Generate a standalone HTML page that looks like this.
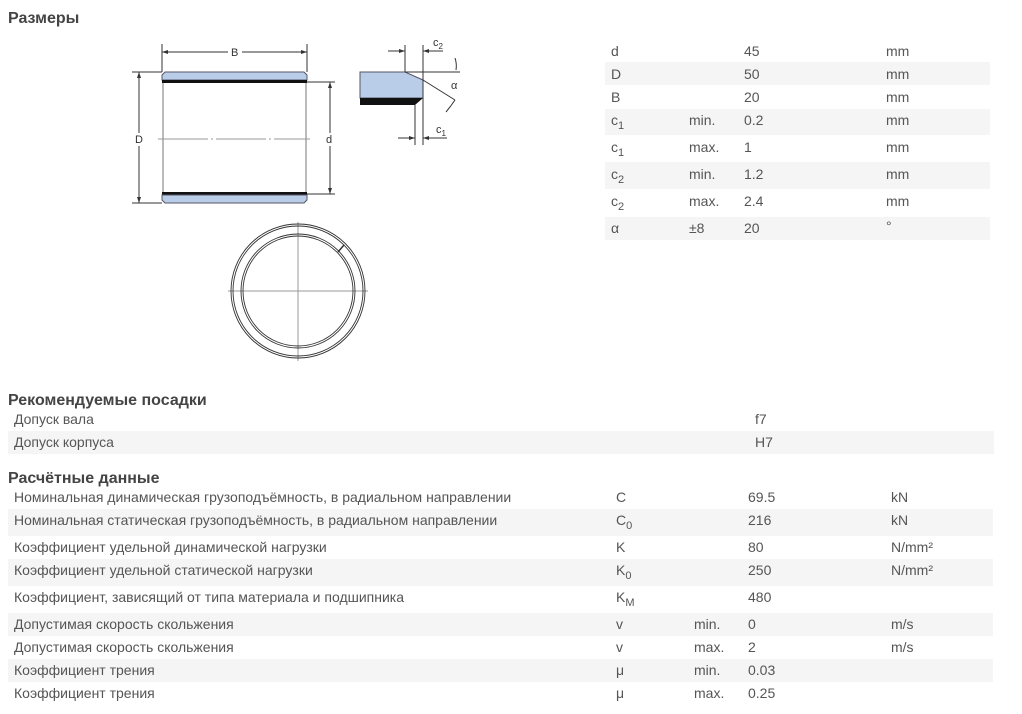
<!DOCTYPE html>
<html><head><meta charset="utf-8"><style>
body{margin:0;width:1022px;height:714px;background:#fff;font-family:"Liberation Sans",Arial,sans-serif;color:#555;font-size:14px;position:relative;overflow:hidden}
.a{position:absolute;white-space:nowrap}
.h{font-weight:bold;color:#444;font-size:16px}
.g{position:absolute;background:#f5f5f5}
sub{font-size:11px;vertical-align:-4px;line-height:0}
</style></head><body>
<div class="a h" style="left:8px;top:10px">Размеры</div>

<svg class="a" style="left:0;top:0" width="600" height="380">
<g stroke="#333" stroke-width="1" fill="none">
<line x1="162" y1="44" x2="162" y2="72"/><line x1="307" y1="44" x2="307" y2="72"/>
<line x1="162" y1="52" x2="228" y2="52"/><line x1="242" y1="52" x2="307" y2="52"/>
<line x1="132" y1="72" x2="162" y2="72"/><line x1="132" y1="203" x2="162" y2="203"/>
<line x1="139" y1="72" x2="139" y2="133"/><line x1="139" y1="146" x2="139" y2="203"/>
<line x1="307" y1="82" x2="335" y2="82"/><line x1="307" y1="194" x2="335" y2="194"/>
<line x1="330" y1="82" x2="330" y2="133"/><line x1="330" y1="146" x2="330" y2="194"/>
<line x1="163" y1="82" x2="163" y2="192" stroke="#777"/><line x1="306" y1="82" x2="306" y2="192" stroke="#777"/>
</g>
<line x1="158" y1="139" x2="310" y2="139" stroke="#999" stroke-dasharray="50,3,2,3"/>
<path d="M165,72 H304 L307,75 V80 H162 V75 Z" fill="#b9cde8" stroke="#556" stroke-width="1"/>
<rect x="162" y="80" width="145" height="3" fill="#111"/>
<rect x="162" y="192" width="145" height="3" fill="#111"/>
<path d="M162,195 H307 V200 L304,203 H165 L162,200 Z" fill="#b9cde8" stroke="#556" stroke-width="1"/>
<g fill="#333"><path d="M162,52 l6,-2 v4z"/><path d="M307,52 l-6,-2 v4z"/><path d="M139,72 l-2,6 h4z"/><path d="M139,203 l-2,-6 h4z"/><path d="M330,82 l-2,6 h4z"/><path d="M330,194 l-2,-6 h4z"/></g>
<text x="231" y="56" font-size="11" fill="#333">B</text><text x="135" y="143" font-size="11" fill="#333">D</text><text x="326" y="143" font-size="11" fill="#333">d</text>
<path d="M360,72 H405 L423,80 V98 H360 Z" fill="#b9cde8" stroke="#556"/>
<path d="M360,98 H423 L415,105 H360 Z" fill="#111"/>
<g stroke="#333" fill="none">
<line x1="405" y1="45" x2="405" y2="72"/><line x1="423" y1="45" x2="423" y2="145"/><line x1="415" y1="105" x2="415" y2="145"/>
<line x1="405" y1="72" x2="460" y2="72"/><line x1="423" y1="80" x2="455" y2="100"/>
<line x1="388" y1="51" x2="405" y2="51"/><line x1="423" y1="51" x2="443" y2="51"/>
<line x1="398" y1="138" x2="415" y2="138"/><line x1="423" y1="138" x2="447" y2="138"/>
<path d="M455,58 Q457,64 456,70"/><path d="M455,100 Q451,106 446,112"/>
</g>
<g fill="#333"><path d="M405,51 l-6,-2 v4z"/><path d="M423,51 l6,-2 v4z"/><path d="M415,138 l-6,-2 v4z"/><path d="M423,138 l6,-2 v4z"/></g>
<text x="433" y="46" font-size="11" fill="#333">c<tspan font-size="8" dy="3">2</tspan></text>
<text x="436" y="133" font-size="11" fill="#333">c<tspan font-size="8" dy="3">1</tspan></text>
<text x="451" y="89" font-size="11" fill="#333">α</text>
<g stroke="#999"><line x1="298" y1="222" x2="298" y2="361"/><line x1="228" y1="291" x2="368" y2="291"/></g>
<g fill="none" stroke="#333" stroke-width="0.9">
<circle cx="298" cy="291" r="67"/><circle cx="298" cy="291" r="65"/>
<circle cx="298" cy="291" r="57"/><circle cx="298" cy="291" r="55"/>
<line x1="338" y1="252" x2="344" y2="245" stroke-width="1.5"/></g>
</svg>

<div class="g" style="left:605px;top:62px;width:385px;height:23px"></div>
<div class="g" style="left:605px;top:109px;width:385px;height:26px"></div>
<div class="g" style="left:605px;top:162px;width:385px;height:27px"></div>
<div class="g" style="left:605px;top:217px;width:385px;height:23px"></div>
<div class="a" style="left:611px;top:43px">d</div><div class="a" style="left:744px;top:43px">45</div><div class="a" style="left:886px;top:43px">mm</div>
<div class="a" style="left:611px;top:66px">D</div><div class="a" style="left:744px;top:66px">50</div><div class="a" style="left:886px;top:66px">mm</div>
<div class="a" style="left:611px;top:89px">B</div><div class="a" style="left:744px;top:89px">20</div><div class="a" style="left:886px;top:89px">mm</div>
<div class="a" style="left:611px;top:112px">c<sub>1</sub></div><div class="a" style="left:689px;top:112px">min.</div><div class="a" style="left:744px;top:112px">0.2</div><div class="a" style="left:886px;top:112px">mm</div>
<div class="a" style="left:611px;top:139px">c<sub>1</sub></div><div class="a" style="left:689px;top:139px">max.</div><div class="a" style="left:744px;top:139px">1</div><div class="a" style="left:886px;top:139px">mm</div>
<div class="a" style="left:611px;top:166px">c<sub>2</sub></div><div class="a" style="left:689px;top:166px">min.</div><div class="a" style="left:744px;top:166px">1.2</div><div class="a" style="left:886px;top:166px">mm</div>
<div class="a" style="left:611px;top:193px">c<sub>2</sub></div><div class="a" style="left:689px;top:193px">max.</div><div class="a" style="left:744px;top:193px">2.4</div><div class="a" style="left:886px;top:193px">mm</div>
<div class="a" style="left:611px;top:220px">α</div><div class="a" style="left:689px;top:220px">±8</div><div class="a" style="left:744px;top:220px">20</div><div class="a" style="left:886px;top:218px">°</div>

<div class="a h" style="left:8px;top:392px">Рекомендуемые посадки</div>
<div class="g" style="left:8px;top:431px;width:986px;height:23px"></div>
<div class="a" style="left:14px;top:411px">Допуск вала</div><div class="a" style="left:755px;top:411px">f7</div>
<div class="a" style="left:14px;top:434px">Допуск корпуса</div><div class="a" style="left:755px;top:434px">H7</div>

<div class="a h" style="left:8px;top:470px">Расчётные данные</div>
<div class="g" style="left:8px;top:509px;width:985px;height:27px"></div>
<div class="g" style="left:8px;top:559px;width:985px;height:27px"></div>
<div class="g" style="left:8px;top:613px;width:985px;height:23px"></div>
<div class="g" style="left:8px;top:659px;width:985px;height:23px"></div>
<div class="a" style="left:14px;top:489px">Номинальная динамическая грузоподъёмность, в радиальном направлении</div><div class="a" style="left:616px;top:489px">C</div><div class="a" style="left:748px;top:489px">69.5</div><div class="a" style="left:891px;top:489px">kN</div>
<div class="a" style="left:14px;top:512px">Номинальная статическая грузоподъёмность, в радиальном направлении</div><div class="a" style="left:616px;top:512px">C<sub>0</sub></div><div class="a" style="left:748px;top:512px">216</div><div class="a" style="left:891px;top:512px">kN</div>
<div class="a" style="left:14px;top:539px">Коэффициент удельной динамической нагрузки</div><div class="a" style="left:616px;top:539px">K</div><div class="a" style="left:748px;top:539px">80</div><div class="a" style="left:891px;top:539px">N/mm²</div>
<div class="a" style="left:14px;top:562px">Коэффициент удельной статической нагрузки</div><div class="a" style="left:616px;top:562px">K<sub>0</sub></div><div class="a" style="left:748px;top:562px">250</div><div class="a" style="left:891px;top:562px">N/mm²</div>
<div class="a" style="left:14px;top:589px">Коэффициент, зависящий от типа материала и подшипника</div><div class="a" style="left:616px;top:589px">K<sub>M</sub></div><div class="a" style="left:748px;top:589px">480</div>
<div class="a" style="left:14px;top:616px">Допустимая скорость скольжения</div><div class="a" style="left:616px;top:616px">v</div><div class="a" style="left:694px;top:616px">min.</div><div class="a" style="left:748px;top:616px">0</div><div class="a" style="left:891px;top:616px">m/s</div>
<div class="a" style="left:14px;top:639px">Допустимая скорость скольжения</div><div class="a" style="left:616px;top:639px">v</div><div class="a" style="left:694px;top:639px">max.</div><div class="a" style="left:748px;top:639px">2</div><div class="a" style="left:891px;top:639px">m/s</div>
<div class="a" style="left:14px;top:662px">Коэффициент трения</div><div class="a" style="left:616px;top:662px">μ</div><div class="a" style="left:694px;top:662px">min.</div><div class="a" style="left:748px;top:662px">0.03</div>
<div class="a" style="left:14px;top:685px">Коэффициент трения</div><div class="a" style="left:616px;top:685px">μ</div><div class="a" style="left:694px;top:685px">max.</div><div class="a" style="left:748px;top:685px">0.25</div>
</body></html>
